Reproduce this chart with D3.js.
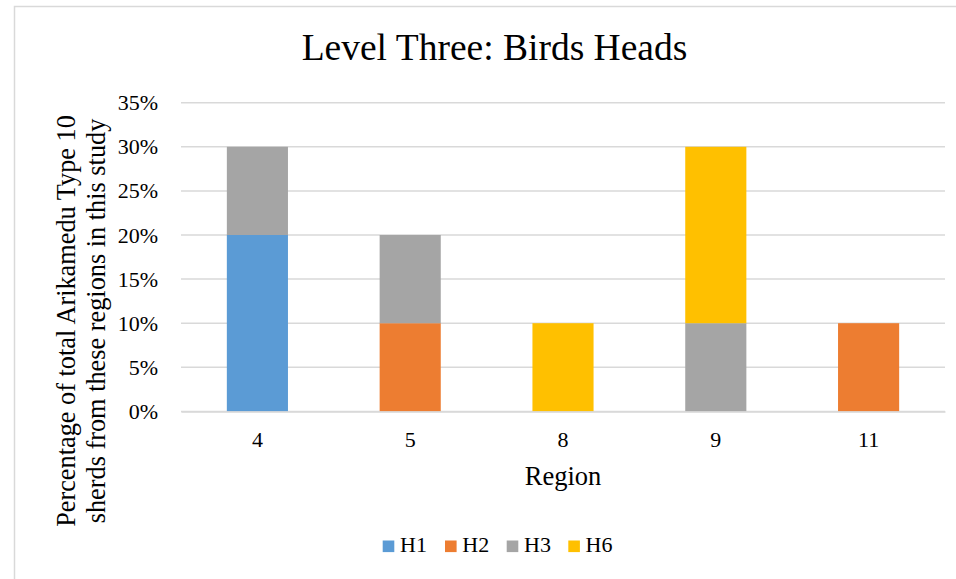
<!DOCTYPE html>
<html><head><meta charset="utf-8">
<script src="https://cdn.jsdelivr.net/npm/d3@7"></script>
<style>body{margin:0;background:#fff}svg{display:block}</style>
</head><body><svg id="c" width="956" height="579"></svg>
<script>
const regions = ["4","5","8","9","11"];
const seriesNames = ["H1","H2","H3","H6"];
const H1 = [0.20,0,0,0,0];
const H2 = [0,0.10,0,0,0.10];
const H3 = [0.10,0.10,0,0.10,0];
const H6 = [0,0,0.10,0.20,0];
const yTicks = [0,0.05,0.10,0.15,0.20,0.25,0.30,0.35];
const colors = ["#5B9BD5","#ED7D31","#A5A5A5","#FFC000"];

(function(){
const FF = "'Liberation Serif', 'Times New Roman', serif";
const svg = d3.select("#c");
svg.append("rect").attr("x",14.5).attr("y",6.5).attr("width",960).attr("height",600)
  .attr("fill","none").attr("stroke","#d9d9d9").attr("stroke-width",1.5);

const pL=181,pR=945,pT=102.7,pB=411.4;
const x = d3.scaleBand().domain(regions).range([pL,pR]).paddingInner(0.6).paddingOuter(0.3);
const y = d3.scaleLinear().domain([0,0.35]).range([pB,pT]);

const table = regions.map((r,i)=>({region:r,H1:H1[i],H2:H2[i],H3:H3[i],H6:H6[i]}));
const stack = d3.stack().keys(seriesNames)(table);

svg.append("g").selectAll("line").data(yTicks).join("line")
  .attr("x1",pL).attr("x2",pR).attr("y1",d=>y(d)).attr("y2",d=>y(d))
  .attr("stroke","#d9d9d9").attr("stroke-width",1.5);

svg.append("g").selectAll("g").data(stack).join("g").attr("fill",(d,i)=>colors[i])
  .selectAll("rect").data(d=>d).join("rect")
  .attr("x",d=>x(d.data.region)).attr("width",x.bandwidth())
  .attr("y",d=>y(d[1])).attr("height",d=>y(d[0])-y(d[1]));

const ya = svg.append("g").attr("transform",`translate(${pL},0)`)
  .call(d3.axisLeft(y).tickValues(yTicks).tickFormat(d3.format(".0%")).tickSize(0).tickPadding(23));
ya.attr("font-family",FF).attr("font-size",22);
ya.select(".domain").remove();
ya.selectAll("text").style("font-family",FF).style("font-size","22px").attr("fill","#000");

const xa = svg.append("g").attr("transform",`translate(0,${pB})`)
  .call(d3.axisBottom(x).tickSize(0).tickPadding(20));
xa.attr("font-family",FF).attr("font-size",22);
xa.select(".domain").attr("stroke","#d9d9d9").attr("stroke-width",1.5);
xa.selectAll("text").style("font-family",FF).style("font-size","22px").attr("fill","#000");

svg.append("text").attr("x",494.5).attr("y",59.5).attr("text-anchor","middle")
  .style("font-family",FF).style("font-size","37.5px").text("Level Three: Birds Heads");
svg.append("text").attr("x",563).attr("y",485).attr("text-anchor","middle")
  .style("font-family",FF).style("font-size","26.5px").text("Region");
const yt = svg.append("text").attr("transform","translate(75,321) rotate(-90)").attr("text-anchor","middle")
  .style("font-family",FF).style("font-size","26.3px");
yt.append("tspan").attr("x",0).attr("y",0).text("Percentage of total Arikamedu Type 10");
yt.append("tspan").attr("x",0).attr("y",29.5).text("sherds from these regions in this study");

const legX = [382.7,445,506.7,568.3];
const lg = svg.append("g").selectAll("g").data(seriesNames).join("g")
  .attr("transform",(d,i)=>`translate(${legX[i]},552)`);
lg.append("rect").attr("x",0).attr("y",-11.5).attr("width",11.6).attr("height",11.6).attr("fill",(d,i)=>colors[i]);
lg.append("text").attr("x",17.3).attr("y",0).style("font-family",FF).style("font-size","22px").text(d=>d);
})();
</script></body></html>
